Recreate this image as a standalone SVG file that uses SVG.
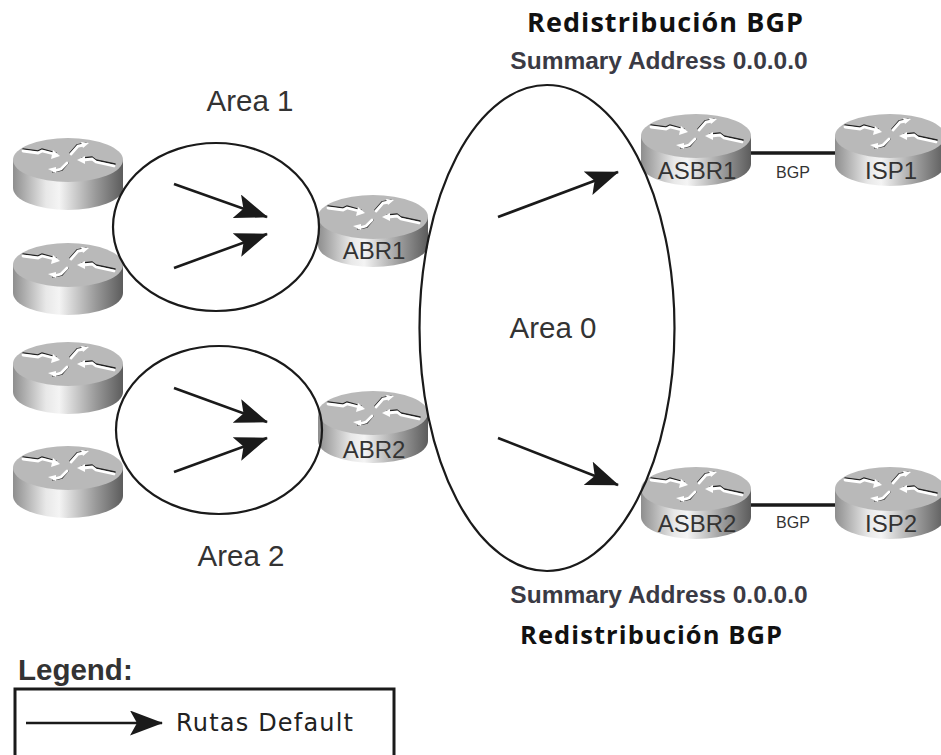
<svg xmlns="http://www.w3.org/2000/svg" width="941" height="755" viewBox="0 0 941 755">
<style>
.area{fill:none;stroke:#1a1a1a;stroke-width:2.2}
.flow{fill:none;stroke:#1a1a1a;stroke-width:2.6;marker-end:url(#ah)}
.t{font-family:"Liberation Sans",Arial,sans-serif;fill:#333}
.rl{font-size:24px;text-anchor:middle}
.al{font-size:29.5px;text-anchor:middle}
.bgp{font-size:16px;text-anchor:middle}
.sa{font-family:"Liberation Sans",Arial,sans-serif;font-weight:bold;font-size:24.5px;text-anchor:middle;fill:#3a3a44}
.rb{font-family:"Open Sans",sans-serif;font-weight:bold;text-anchor:middle;fill:#111}
.link{stroke:#1a1a1a;stroke-width:3.5}
.ad{fill:none;stroke:#222;stroke-width:1.5;stroke-linecap:round}
.aw{fill:none;stroke:#fff;stroke-width:2.8;stroke-linecap:round}
.ah{fill:#fff}
</style>
<defs>
<marker id="ah" viewBox="0 0 33 25" refX="32" refY="12.5" markerUnits="userSpaceOnUse" markerWidth="33" markerHeight="25" orient="auto">
<path d="M0 0L33 12.5L0 25L7 12.5Z" fill="#1a1a1a"/>
</marker>
<linearGradient id="side" x1="0" x2="1" y1="0" y2="0">
<stop offset="0" stop-color="#8e8e8e"/><stop offset=".3" stop-color="#e8e8e8"/><stop offset=".42" stop-color="#f4f4f4"/><stop offset=".75" stop-color="#9a9a9a"/><stop offset="1" stop-color="#5c5c5c"/>
</linearGradient>
<g id="router">
<path d="M-55-14V14A55 22 0 0 0 55 14V-14Z" fill="url(#side)"/>
<ellipse cx="0" cy="-14" rx="55" ry="22" fill="#b9b9b9"/>
<path class="ad" d="M-45-25L-30-23L-26-25L-12-21"/>
<path class="aw" d="M-45-23L-30-21L-26-23L-14-20"/>
<path class="ah" d="M-8-18L-15-24L-17-15Z"/>
<path class="ad" d="M14-16L24-17L28-14L47-10"/>
<path class="aw" d="M15-14L24-15L28-12L46-8"/>
<path class="ah" d="M9-14L17-18L17-10Z"/>
<path class="ad" d="M2-21L9-29L18-31"/>
<path class="aw" d="M3-20L10-28L16-29"/>
<path class="ah" d="M21-31L13-32L15-26Z"/>
<path class="ad" d="M-15-2L-6-4L0-11"/>
<path class="aw" d="M-14-3L-7-5L-1-11"/>
<path class="ah" d="M-20-5L-12-7L-12-1Z"/>
</g>
</defs>
<rect width="941" height="755" fill="#fff"/>
<g id="connectors">
<line class="link" x1="748" y1="153" x2="838" y2="153"/>
<line class="link" x1="748" y1="505" x2="838" y2="505"/>
<path class="flow" d="M174 184L267 217"/>
<path class="flow" d="M174 268L267 234"/>
<path class="flow" d="M174 388L267 422"/>
<path class="flow" d="M174 472L267 438"/>
<path class="flow" d="M498 217L618 172"/>
<path class="flow" d="M498 438L618 485"/>
</g>
<g id="r1"><use href="#router" x="68" y="174"/></g>
<g id="r2"><use href="#router" x="68" y="279"/></g>
<g id="r3"><use href="#router" x="68" y="378"/></g>
<g id="r4"><use href="#router" x="68" y="482"/></g>
<g id="abr1"><use href="#router" x="373" y="231"/><text class="t rl" x="374" y="259">ABR1</text></g>
<g id="abr2"><use href="#router" x="373" y="427"/><text class="t rl" x="374" y="458">ABR2</text></g>
<g id="asbr1"><use href="#router" x="696" y="150"/><text class="t rl" x="697" y="179">ASBR1</text></g>
<g id="isp1"><use href="#router" x="890" y="150"/><text class="t rl" x="891" y="179">ISP1</text></g>
<g id="asbr2"><use href="#router" x="696" y="503"/><text class="t rl" x="697" y="532">ASBR2</text></g>
<g id="isp2"><use href="#router" x="890" y="503"/><text class="t rl" x="891" y="532">ISP2</text></g>
<g id="area1"><ellipse class="area" cx="216" cy="227" rx="103" ry="84"/><text class="t al" x="250" y="111">Area 1</text></g>
<g id="area2"><ellipse class="area" cx="219" cy="430" rx="103" ry="84"/><text class="t al" x="241" y="566">Area 2</text></g>
<g id="area0"><ellipse class="area" cx="547" cy="328" rx="127.500" ry="243"/><text class="t al" x="553" y="338">Area 0</text></g>
<text class="t bgp" x="793" y="178">BGP</text>
<text class="t bgp" x="793" y="528">BGP</text>
<text class="rb" x="665" y="32" font-size="27" textLength="276" lengthAdjust="spacing">Redistribución BGP</text>
<text class="sa" x="659" y="69">Summary Address 0.0.0.0</text>
<text class="sa" x="659" y="603">Summary Address 0.0.0.0</text>
<text class="rb" x="651" y="644" font-size="25.500" textLength="262" lengthAdjust="spacing">Redistribución BGP</text>
<g id="legend">
<text x="18" y="680" font-family="Liberation Sans,Arial,sans-serif" font-weight="bold" font-size="29.500" fill="#333">Legend:</text>
<rect x="15" y="689" width="379" height="80" fill="#fff" stroke="#1a1a1a" stroke-width="3"/>
<path class="flow" d="M26 723H162"/>
<text x="176" y="731" font-family="DejaVu Sans,sans-serif" font-size="24" fill="#222" textLength="177" lengthAdjust="spacing">Rutas Default</text>
</g>
</svg>
